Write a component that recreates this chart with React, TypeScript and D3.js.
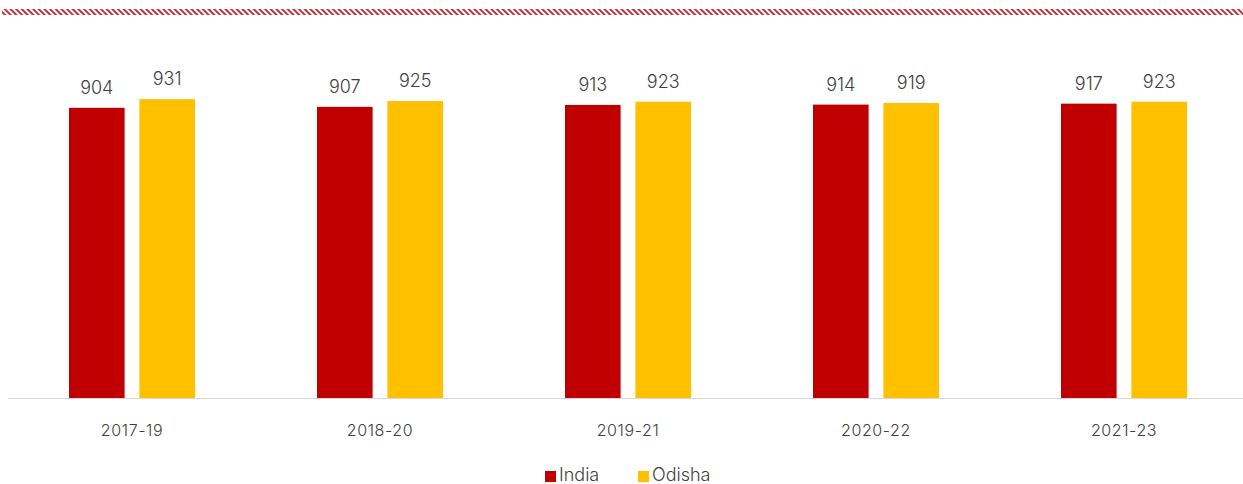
import { useEffect, useRef } from "react";
import * as d3 from "d3";

const periods = ["2017-19", "2018-20", "2019-21", "2020-22", "2021-23"];
const india = [904, 907, 913, 914, 917];
const odisha = [931, 925, 923, 919, 923];
const seriesNames = ["India", "Odisha"];

const RED = "#c00000";
const GOLD = "#ffc000";
const TEXT = "#404040";
const FONT = "Inter, 'Open Sans', sans-serif";

export default function App() {
  const ref = useRef<SVGSVGElement>(null);

  useEffect(() => {
    if (!ref.current) return;
    const svg = d3.select(ref.current);
    svg.selectAll("*").remove();

    const W = 1243;
    const left = 8;
    const right = 1248;
    const baseline = 398;

    // hatched band at the top
    const defs = svg.append("defs");
    const pat = defs
      .append("pattern")
      .attr("id", "hatch")
      .attr("patternUnits", "userSpaceOnUse")
      .attr("width", 4)
      .attr("height", 4)
      .attr("patternTransform", "rotate(-45)");
    pat
      .append("rect")
      .attr("width", 2)
      .attr("height", 4)
      .attr("fill", "#c0313c");
    svg
      .append("rect")
      .attr("x", 2)
      .attr("y", 9)
      .attr("width", W - 2)
      .attr("height", 6)
      .attr("fill", "url(#hatch)");

    const x0 = d3.scaleBand().domain(periods).range([left, right]).padding(0);
    const x1 = d3
      .scaleBand()
      .domain(seriesNames)
      .range([x0.bandwidth() / 2 - 63, x0.bandwidth() / 2 + 63])
      .paddingInner(0.21)
      .paddingOuter(0);
    const y = d3.scaleLinear().domain([0, 1000]).range([baseline, 77]);

    const rows = periods.map((p, i) => ({ p, vals: [india[i], odisha[i]] }));
    const colors = [RED, GOLD];

    // baseline
    svg
      .append("line")
      .attr("x1", left)
      .attr("x2", W)
      .attr("y1", baseline + 0.5)
      .attr("y2", baseline + 0.5)
      .attr("stroke", "#d9d9d9")
      .attr("stroke-width", 1);

    const g = svg
      .selectAll("g.grp")
      .data(rows)
      .join("g")
      .attr("class", "grp")
      .attr("transform", (d) => `translate(${x0(d.p)},0)`);

    g.selectAll("rect")
      .data((d) => d.vals.map((v, j) => ({ v, j })))
      .join("rect")
      .attr("x", (d) => x1(seriesNames[d.j])!)
      .attr("y", (d) => y(d.v))
      .attr("width", x1.bandwidth())
      .attr("height", (d) => baseline - y(d.v))
      .attr("fill", (d) => colors[d.j]);

    g.selectAll("text.val")
      .data((d) => d.vals.map((v, j) => ({ v, j })))
      .join("text")
      .attr("class", "val")
      .attr("x", (d) => x1(seriesNames[d.j])! + x1.bandwidth() / 2)
      .attr("y", (d) => y(d.v) - 14)
      .attr("text-anchor", "middle")
      .attr("font-family", FONT)
      .attr("font-weight", 300)
      .attr("font-size", "18px")
      .attr("fill", TEXT)
      .text((d) => d.v);

    // x axis labels
    svg
      .append("g")
      .selectAll("text")
      .data(periods)
      .join("text")
      .attr("x", (d) => x0(d)! + x0.bandwidth() / 2)
      .attr("y", 436)
      .attr("text-anchor", "middle")
      .attr("font-family", FONT)
      .attr("font-weight", 300)
      .attr("font-size", "16px")
      .attr("letter-spacing", "0.6px")
      .attr("fill", TEXT)
      .text((d) => d);

    // legend
    const legendX = [545, 638];
    const lg = svg
      .append("g")
      .selectAll("g")
      .data(seriesNames)
      .join("g")
      .attr("transform", (_, i) => `translate(${legendX[i]},0)`);
    lg.append("rect")
      .attr("x", 0)
      .attr("y", 471)
      .attr("width", 11)
      .attr("height", 11)
      .attr("fill", (_, i) => colors[i]);
    lg.append("text")
      .attr("x", 14)
      .attr("y", 481)
      .attr("font-family", FONT)
      .attr("font-weight", 300)
      .attr("font-size", "18px")
      .attr("fill", TEXT)
      .text((d) => d);
  }, []);

  return (
    <svg
      ref={ref}
      width={1243}
      height={484}
      style={{ display: "block", position: "absolute", left: 0, top: 0, background: "#fff" }}
    />
  );
}
